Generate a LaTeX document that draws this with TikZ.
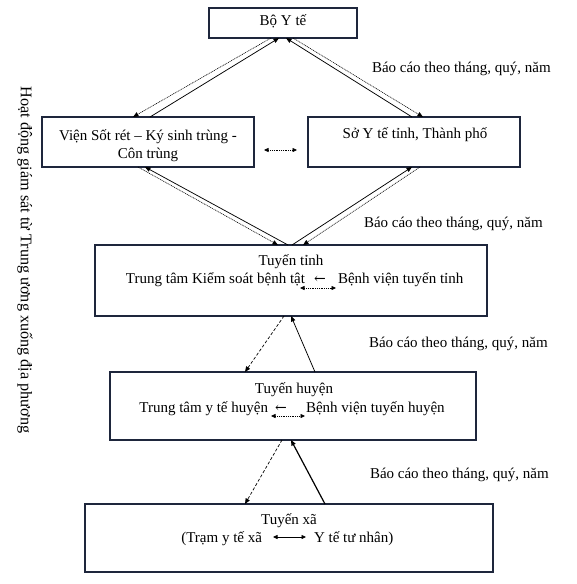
\documentclass[tikz,border=0pt]{standalone}
\usepackage{fontspec}
\setmainfont{Liberation Serif}
\newfontfamily\arrowfont{DejaVu Serif}
\usetikzlibrary{arrows.meta}
\definecolor{boxc}{RGB}{30,38,60}
\tikzset{
  box/.style={draw=boxc,line width=1.5pt,inner sep=0pt,outer sep=0pt,rectangle},
  txt/.style={inner sep=0pt,outer sep=0pt,font=\fontsize{15}{18}\selectfont,anchor=base},
  lbl/.style={txt,anchor=base west},
  tip/.style={-{Triangle[length=5.5pt,width=4.5pt]}},
  solidc/.style={tip,line width=0.75pt},
  dotc/.style={tip,line width=0.6pt,dash pattern=on 1pt off 0.8pt},
  dashc/.style={tip,line width=0.7pt,dash pattern=on 3pt off 2pt},
  dbldot/.style={{Triangle[length=4.5pt,width=4pt]}-{Triangle[length=4.5pt,width=4pt]},line width=0.7pt,dash pattern=on 1pt off 0.8pt},
  dblsolid/.style={{Triangle[length=4.5pt,width=4pt]}-{Triangle[length=4.5pt,width=4pt]},line width=0.7pt},
}
\begin{document}
\begin{tikzpicture}[x=1pt,y=-1pt]
\fill[white] (0,0) rectangle (576,584);
\useasboundingbox (0,0) rectangle (576,584);

% boxes
\node[box,minimum width=148pt,minimum height=30pt] (bo) at (283,23) {};
\node[box,minimum width=212pt,minimum height=50pt] (vien) at (148,142) {};
\node[box,minimum width=212pt,minimum height=50pt] (so) at (414,142) {};
\node[box,minimum width=392pt,minimum height=71pt] (tinh) at (291,280.5) {};
\node[box,minimum width=366pt,minimum height=68pt] (huyen) at (293,406) {};
\node[box,minimum width=408pt,minimum height=68pt] (xa) at (289,538) {};

% texts
\node[txt] (botxt) at (283,25) {Bộ Y tế};
\node[txt] (vien1) at (148,140) {Viện Sốt rét – Ký sinh trùng -};
\node[txt] (vien2) at (148,158) {Côn trùng};
\node[txt] (sotxt) at (415,138) {Sở Y tế tỉnh, Thành phố};

\node[txt] (tinh1) at (291,265) {Tuyến tỉnh};
\node[txt,anchor=base east] (tinh2a) at (305,283) {Trung tâm Kiểm soát bệnh tật};
\node[txt,font=\arrowfont\fontsize{14}{18}\selectfont] (tinh2b) at (320,283) {←};
\node[txt,anchor=base west] (tinh2c) at (338,283) {Bệnh viện tuyến tỉnh};

\node[txt] (huyen1) at (294,393) {Tuyến huyện};
\node[txt,anchor=base east] (huyen2a) at (268,412) {Trung tâm y tế huyện};
\node[txt,font=\arrowfont\fontsize{14}{18}\selectfont] (huyen2b) at (281,412) {←};
\node[txt,anchor=base west] (huyen2c) at (306,412) {Bệnh viện tuyến huyện};

\node[txt] (xa1) at (289,524) {Tuyến xã};
\node[txt,anchor=base east] (xa2a) at (262,542) {(Trạm y tế xã};
\node[txt,anchor=base west] (xa2c) at (314,542) {Y tế tư nhân)};

% report labels
\node[lbl] (l1) at (372,72) {Báo cáo theo tháng, quý, năm};
\node[lbl] (l2) at (364,227) {Báo cáo theo tháng, quý, năm};
\node[lbl] (l3) at (369,347) {Báo cáo theo tháng, quý, năm};
\node[lbl] (l4) at (370,478) {Báo cáo theo tháng, quý, năm};

% vertical text
\node[inner sep=0pt,rotate=-90,font=\fontsize{16.2}{18}\selectfont] (side) at (25,260) {Hoạt động giám sát từ Trung ương xuống địa phương};

% Bo - Vien
\draw[dotc] ([xshift=62pt]bo.south west) -- ([xshift=91pt]vien.north west);
\draw[solidc] ([xshift=108pt]vien.north west) -- ([xshift=70pt]bo.south west);
% Bo - So
\draw[solidc] ([xshift=104pt]so.north west) -- ([xshift=77pt]bo.south west);
\draw[dotc] ([xshift=84pt]bo.south west) -- ([xshift=115pt]so.north west);
% Vien - Tinh
\draw[dotc] ([xshift=96pt]vien.south west) -- ([xshift=183pt]tinh.north west);
\draw[solidc] ([xshift=193pt]tinh.north west) -- ([xshift=103pt]vien.south west);
% So - Tinh
\draw[solidc] ([xshift=197pt]tinh.north west) -- ([xshift=104pt]so.south west);
\draw[dotc] ([xshift=112pt]so.south west) -- ([xshift=208pt]tinh.north west);
% Tinh - Huyen
\draw[dashc] ([xshift=189pt]tinh.south west) -- ([xshift=135pt]huyen.north west);
\draw[solidc] ([xshift=205pt]huyen.north west) -- ([xshift=196pt]tinh.south west);
% Huyen - Xa
\draw[dashc] ([xshift=172pt]huyen.south west) -- ([xshift=160pt]xa.north west);
\draw[solidc,line width=1.2pt] ([xshift=240pt]xa.north west) -- ([xshift=181pt]huyen.south west);

% horizontal double arrows
\coordinate (vs1) at (264,150);
\coordinate (vs2) at (297,150);
\draw[dbldot] (vs1) -- (vs2);
\coordinate (ti1) at (300,288);
\coordinate (ti2) at (336,288);
\draw[dbldot] (ti1) -- (ti2);
\coordinate (hu1) at (271,416);
\coordinate (hu2) at (305,416);
\draw[dbldot] (hu1) -- (hu2);
\coordinate (xa1c) at (273,537);
\coordinate (xa2c2) at (306,537);
\draw[dblsolid] (xa1c) -- (xa2c2);
\end{tikzpicture}
\end{document}
